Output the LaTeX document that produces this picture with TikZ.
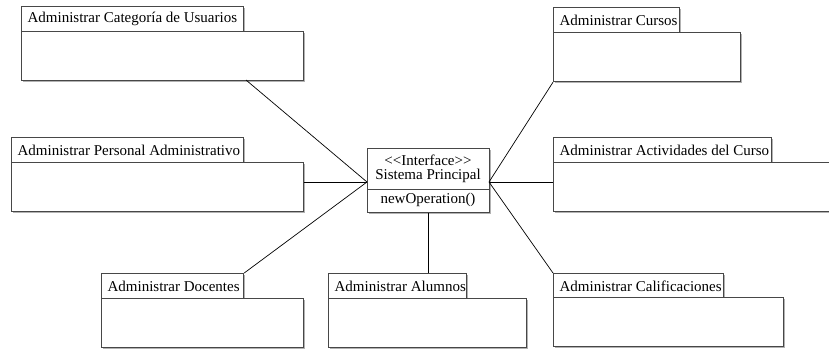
\documentclass[tikz,border=0pt]{standalone}
\usepackage{fontspec}
\setmainfont{Liberation Serif}
\usetikzlibrary{shadows}
\newcommand{\tabtext}[2]{\makebox[#1][l]{#2}}
\begin{document}
\begin{tikzpicture}[x=1pt,y=-1pt,
  pkg/.style={draw=black!72, line width=1.2pt, fill=white,
    drop shadow={shadow xshift=1.3pt, shadow yshift=-1.3pt, fill=black!30, opacity=1},
    inner sep=0pt, anchor=north west},
  tabbox/.style={pkg, minimum height=25pt, font=\fontsize{15}{17}\selectfont,
    inner xsep=6pt},
  bodybox/.style={pkg, minimum height=49pt},
  conn/.style={draw=black, line width=0.7pt},
  txt/.style={font=\fontsize{15}{14}\selectfont, align=center, inner sep=0pt}]
\useasboundingbox (0,0) rectangle (829,349);

% interface
\node[pkg, minimum width=122pt, minimum height=64pt] (iface) at (367,148) {};
\coordinate (dl) at (367,189);
\coordinate (dr) at (489,189);
\draw[draw=black!72, line width=1pt] (dl) -- (dr);
\node[txt] (ihead) at (428,169) {{<}{<}Interface{>}{>}\\Sistema Principal};
\node[txt] (iop) at (428,200) {newOperation()};
\coordinate (L) at (367,182);
\coordinate (R) at (489,182);

% packages
\node[tabbox] (t1) at (21,6) {\tabtext{210pt}{Administrar Categoría de Usuarios}};
\node[bodybox, minimum width=282pt] (b1) at (21,31) {};

\node[tabbox] (t2) at (553,7) {\tabtext{114pt}{Administrar Cursos}};
\node[bodybox, minimum width=187pt] (b2) at (553,32) {};

\node[tabbox] (t3) at (11,137) {\tabtext{220pt}{Administrar Personal Administrativo}};
\node[bodybox, minimum width=292pt] (b3) at (11,162) {};

\node[tabbox] (t4) at (553,137) {\tabtext{206pt}{Administrar Actividades del Curso}};
\node[bodybox, minimum width=292pt] (b4) at (553,162) {};

\node[tabbox] (t5) at (101,273) {\tabtext{130pt}{Administrar Docentes}};
\node[bodybox, minimum width=202pt] (b5) at (101,298) {};

\node[tabbox] (t6) at (328,273) {\tabtext{126pt}{Administrar Alumnos}};
\node[bodybox, minimum width=198pt] (b6) at (328,298) {};

\node[tabbox] (t7) at (553,273) {\tabtext{158pt}{Administrar Calificaciones}};
\node[bodybox, minimum width=230pt] (b7) at (553,297) {};

% connectors
\coordinate (c1) at (246,80);
\draw[conn] (c1) -- (L);
\draw[conn] (b3.east |- L) -- (L);
\draw[conn] (t5.north east) -- (L);
\draw[conn] (iface.south) -- (iface.south |- t6.north);
\draw[conn] (b2.south west) -- (R);
\draw[conn] (R) -- (b4.west |- R);
\draw[conn] (R) -- (t7.north west);
\end{tikzpicture}
\end{document}
